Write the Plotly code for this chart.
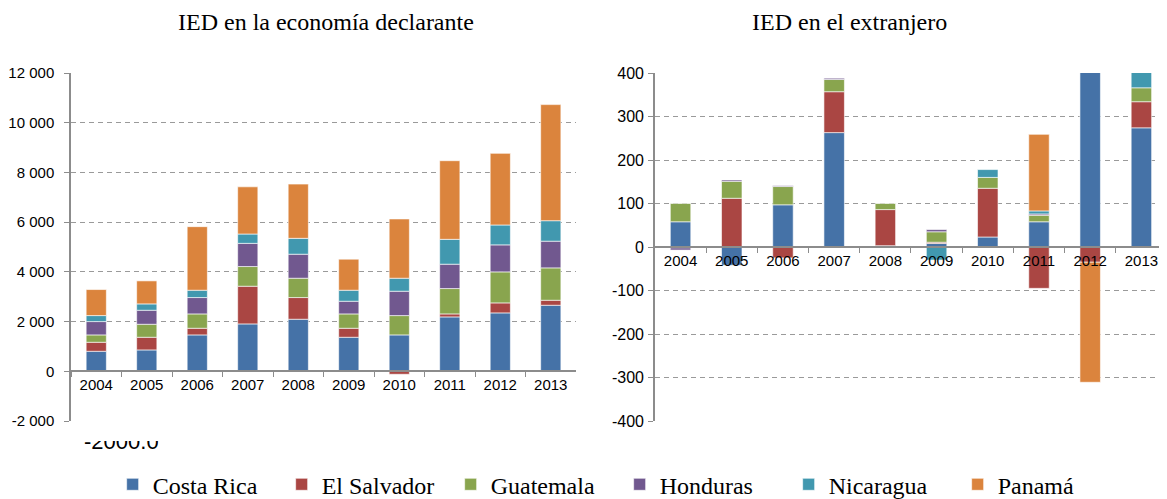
import plotly.graph_objects as go

YEARS = ["2004", "2005", "2006", "2007", "2008", "2009", "2010", "2011", "2012", "2013"]
COUNTRIES = ["Costa Rica", "El Salvador", "Guatemala", "Honduras", "Nicaragua", "Panamá"]
COLORS = ["#4572A7", "#AA4643", "#89A54E", "#71588F", "#4198AF", "#DB843D"]

# IED en la economía declarante (millones de dólares)
decl_costa_rica = [805, 859, 1463, 1906, 2094, 1369, 1463, 2187, 2349, 2657]
decl_el_salvador = [363, 510, 268, 1516, 872, 362, -120, 121, 402, 201]
decl_guatemala = [295, 523, 577, 792, 778, 577, 778, 1020, 1248, 1302]
decl_honduras = [537, 564, 658, 933, 966, 510, 980, 980, 1087, 1074]
decl_nicaragua = [241, 255, 295, 376, 639, 443, 523, 1001, 800, 824]
decl_panama = [1047, 926, 2557, 1898, 2182, 1248, 2385, 3163, 2881, 4670]

# IED en el extranjero
ext_costa_rica = [58, -42, 97, 263, 3, 8, 23, 58, 560, 274]
ext_el_salvador = [-2, 112, -25, 94, 83, 3, 112, -95, -35, 60]
ext_guatemala = [42, 39, 42, 28, 14, 24, 25, 15, None, 32]
ext_honduras = [-5, 3, 2, 3, -2, 5, -2, 3, None, None]
ext_nicaragua = [None, None, None, None, None, -30, 18, 7, None, 60]
ext_panama = [None, None, None, None, None, None, None, 176, -276, None]

LEFT_TICKS = [-2000, 0, 2000, 4000, 6000, 8000, 10000, 12000]
LEFT_TICKTEXT = ["-2 000", "0", "2 000", "4 000", "6 000", "8 000", "10 000", "12 000"]
RIGHT_TICKS = [-400, -300, -200, -100, 0, 100, 200, 300, 400]
RIGHT_TICKTEXT = ["-400", "-300", "-200", "-100", "0", "100", "200", "300", "400"]

decl = [decl_costa_rica, decl_el_salvador, decl_guatemala,
        decl_honduras, decl_nicaragua, decl_panama]
ext = [ext_costa_rica, ext_el_salvador, ext_guatemala,
       ext_honduras, ext_nicaragua, ext_panama]

SANS = "Liberation Sans, Arial, sans-serif"
SERIF = "Liberation Serif, Times New Roman, serif"
AXIS_GRAY = "#8c8c8c"
GRID_GRAY = "#9a9a9a"

fig = go.Figure()
for name, color, values in zip(COUNTRIES, COLORS, decl):
    fig.add_trace(go.Bar(
        x=YEARS, y=values, name=name,
        marker=dict(color=color, line=dict(color="rgba(255,255,255,0.6)", width=1)),
        xaxis="x", yaxis="y"))
for name, color, values in zip(COUNTRIES, COLORS, ext):
    fig.add_trace(go.Bar(
        x=YEARS, y=values, name=name, showlegend=False,
        marker=dict(color=color, line=dict(color="rgba(255,255,255,0.6)", width=1)),
        xaxis="x2", yaxis="y2"))

xcommon = dict(type="category", showline=True, linecolor=AXIS_GRAY, linewidth=1.5,
               ticks="outside", tickson="boundaries", ticklen=5, tickcolor=AXIS_GRAY,
               showgrid=False, zeroline=False, anchor="free",
               tickfont=dict(family=SANS, size=15, color="black"), fixedrange=True)
ycommon = dict(showline=True, linecolor=AXIS_GRAY, linewidth=1.5, ticks="outside",
               ticklen=5, tickcolor=AXIS_GRAY, showgrid=True, gridcolor=GRID_GRAY,
               griddash="5px,4px", gridwidth=1, zeroline=False, automargin=False,
               tickfont=dict(family=SANS, size=15, color="black"))

# the page body adds an 8px margin, so the figure is 8px smaller than the window
fig.update_layout(
    width=1159, height=491,
    barmode="relative", bargap=0.6,
    plot_bgcolor="white", paper_bgcolor="white",
    margin=dict(l=63, r=0, t=65, b=78, autoexpand=False),
    xaxis=dict(xcommon, domain=[0, 0.4608], position=2000 / 14000),
    yaxis=dict(ycommon, anchor="x", range=[-2000, 12000],
               tickvals=LEFT_TICKS, ticktext=LEFT_TICKTEXT, ticklabelstandoff=7),
    xaxis2=dict(xcommon, domain=[0.5328, 1.0], position=0.5),
    yaxis2=dict(ycommon, anchor="x2", range=[-400, 400],
                tickvals=RIGHT_TICKS, ticktext=RIGHT_TICKTEXT, ticklabelstandoff=1,
                tickfont=dict(family=SANS, size=16, color="black")),
    legend=dict(orientation="h", x=0.038, y=-0.183, yanchor="middle", xanchor="left",
                entrywidth=124, entrywidthmode="pixels",
                font=dict(family=SERIF, size=24, color="black")),
    annotations=[
        dict(text="IED en la economía declarante", xref="paper", yref="paper",
             x=0.2327, y=1.1466, xanchor="center", yanchor="middle", showarrow=False,
             font=dict(family=SERIF, size=24, color="black")),
        dict(text="IED en el extranjero", xref="paper", yref="paper",
             x=0.7099, y=1.1466, xanchor="center", yanchor="middle", showarrow=False,
             font=dict(family=SERIF, size=24, color="black")),
        dict(text="-2000.0", xref="paper", yref="paper", x=0.0465, y=-0.1008,
             xanchor="center", showarrow=False, height=13, valign="bottom",
             font=dict(family=SANS, size=22, color="black")),
    ],
)

fig.write_html("out.html")
